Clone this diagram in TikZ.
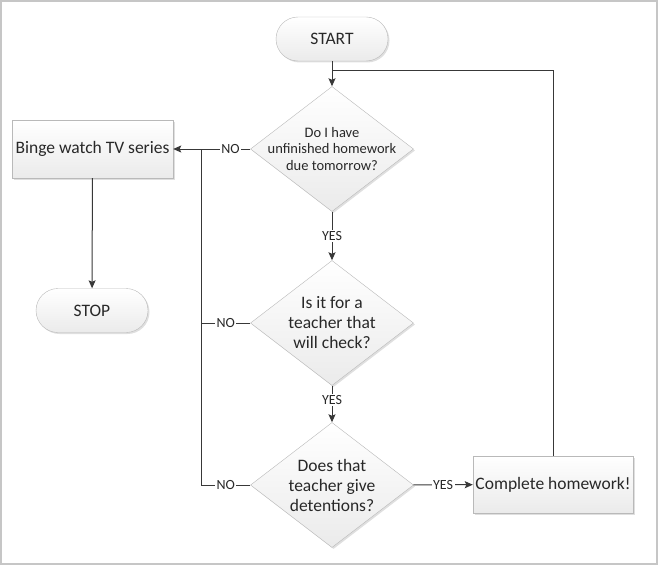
\documentclass[tikz,border=0pt]{standalone}
\usepackage{fontspec}
\setmainfont{Carlito}
\usetikzlibrary{shapes.geometric,arrows.meta,shadows}
\definecolor{linegray}{HTML}{383838}
\definecolor{textgray}{HTML}{282828}
\tikzset{
  box/.style={draw=gray!55, top color=white, bottom color=gray!16, text=textgray,
    drop shadow={shadow xshift=1.5pt, shadow yshift=-1.5pt, opacity=0.25, fill=gray},
    font=\fontsize{17.5}{20}\selectfont, align=center, inner sep=0pt},
  terminal/.style={box, rectangle, rounded corners=22pt, minimum width=112pt, minimum height=44pt},
  process/.style={box, rectangle, minimum width=161pt, minimum height=58pt},
  decision/.style={box, diamond, inner sep=-25pt, minimum width=163pt, minimum height=125pt},
  flow/.style={draw=linegray, line width=1pt},
  arr/.style={flow, -{Stealth[length=8pt,width=7pt,inset=1.5pt]}},
  answer/.style={fill=white, text=textgray, inner sep=1.5pt, font=\fontsize{14}{14}\selectfont}
}
\begin{document}
\begin{tikzpicture}[x=1pt, y=-1pt]
    \useasboundingbox (0,0) rectangle (660,567);
    \draw[gray!45, line width=1.2pt] (1,1) rectangle (657,564);

    \node[terminal] (start) at (332,39) {START};
    \node[decision, font=\fontsize{14.5}{16.5}\selectfont] (due) at (332,149)
        {Do I have\\unfinished homework\\due tomorrow?};
    \node[decision] (check) at (332,323) {Is it for a\\teacher that\\will check?};
    \node[decision] (detention) at (332,485) {Does that\\teacher give\\detentions?};
    \node[process] (binge) at (92.5,149) {Binge watch TV series};
    \node[terminal] (stop) at (92,310.5) {STOP};
    \node[process, minimum width=160pt, minimum height=57pt] (done) at (553,484.5) {Complete homework!};

    \coordinate (merge) at (332,71);
    \coordinate (nojoin) at (201,149);

    \draw[arr] (start) -- (due);
    \draw[flow] (done.north) |- (merge);
    \draw[arr] (due) -- node[answer] {YES} (check);
    \draw[arr] (check) -- node[answer, pos=0.4] {YES} (detention);
    \draw[arr] (detention) -- node[answer] {YES} (done);
    \draw[flow] (due.west) -- node[answer, pos=0.4] {NO} (nojoin);
    \draw[arr] (nojoin) -- (binge.east);
    \draw[flow] (check.west) -- node[answer] {NO} (nojoin |- check.west);
    \draw[flow] (detention.west) -- node[answer] {NO} (nojoin |- detention.west) -- (nojoin);
    \draw[arr] (binge) -- (stop);
\end{tikzpicture}
\end{document}
